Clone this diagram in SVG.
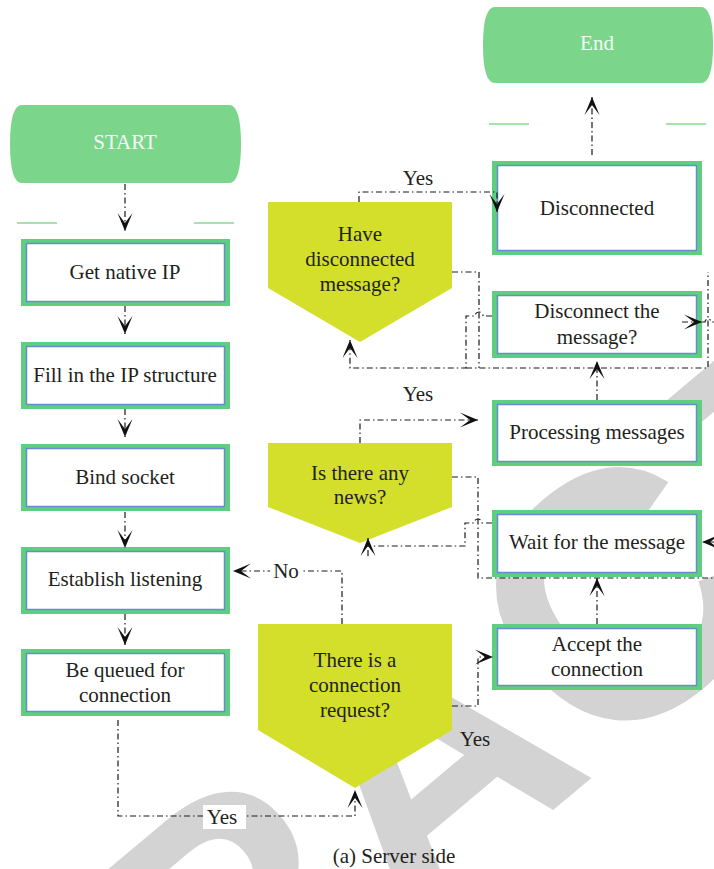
<svg xmlns="http://www.w3.org/2000/svg" width="714" height="869" viewBox="0 0 714 869">
<defs>
<style>
.wm{fill:#d3d3d3;font-family:"Liberation Sans",Arial,sans-serif;font-weight:bold;font-size:350px}
.term{fill:#7bd58b}
.termtxt{fill:#f3fbf4;font-family:"Liberation Serif",serif;font-size:21px;text-anchor:middle}
.sep{stroke:#86d996;stroke-width:1.5;fill:none}
.bo{fill:#5ecf7e}
.bi{fill:#ffffff;stroke:#6a8bd4;stroke-width:1.5}
.dec{fill:#d4df2b}
.t{fill:#231f20;font-family:"Liberation Serif",serif;font-size:21px;text-anchor:middle}
.c{fill:none;stroke:#1a1a1a;stroke-width:1.2;stroke-dasharray:6 3 1.5 3}
.a{marker-end:url(#ah)}
.lbg{fill:#ffffff}
</style>
<marker id="ah" viewBox="-19 -8 20 16" refX="0" refY="0" markerWidth="20" markerHeight="16" markerUnits="userSpaceOnUse" orient="auto">
<path d="M0,0 L-18,-7.5 L-8,0 L-18,7.5 Z" fill="#111"/>
</marker>
</defs>
<rect width="714" height="869" fill="#ffffff"/>
<g id="watermark">
<text class="wm" transform="translate(-325,1547) rotate(-40)">RETRACTED</text>
</g>
<g id="start">
<path class="term" d="M22,105 H229 Q241,105 241,144 Q241,183 229,183 H22 Q10,183 10,144 Q10,105 22,105 Z"/>
<text class="termtxt" x="125" y="149">START</text>
<line class="sep" x1="17" y1="223" x2="57" y2="223"/>
<line class="sep" x1="194" y1="223" x2="234" y2="223"/>
</g>
<g id="end">
<path class="term" d="M495,7 H701 Q713,7 713,45 Q713,83 701,83 H495 Q483,83 483,45 Q483,7 495,7 Z"/>
<text class="termtxt" x="597" y="50">End</text>
<line class="sep" x1="489" y1="124" x2="529" y2="124"/>
<line class="sep" x1="666" y1="124" x2="706" y2="124"/>
</g>
<g id="get-ip">
<rect class="bo" x="21" y="239" width="209" height="67"/>
<rect class="bi" x="26.5" y="243.5" width="198" height="58"/>
<text class="t" x="125" y="279">Get native IP</text>
</g>
<g id="fill-ip">
<rect class="bo" x="21" y="342" width="209" height="67"/>
<rect class="bi" x="26.5" y="346.5" width="198" height="58"/>
<text class="t" x="125" y="382">Fill in the IP structure</text>
</g>
<g id="bind">
<rect class="bo" x="21" y="444" width="209" height="67"/>
<rect class="bi" x="26.5" y="448.5" width="198" height="58"/>
<text class="t" x="125" y="484">Bind socket</text>
</g>
<g id="listen">
<rect class="bo" x="21" y="547" width="209" height="67"/>
<rect class="bi" x="26.5" y="551.5" width="198" height="58"/>
<text class="t" x="125" y="586">Establish listening</text>
</g>
<g id="queue">
<rect class="bo" x="21" y="649" width="209" height="67"/>
<rect class="bi" x="26.5" y="653.5" width="198" height="58"/>
<text class="t" x="125" y="677">Be queued for</text>
<text class="t" x="125" y="702">connection</text>
</g>
<g id="disconnected">
<rect class="bo" x="492" y="161" width="210" height="94"/>
<rect class="bi" x="497.5" y="165.5" width="199" height="85"/>
<text class="t" x="597" y="215">Disconnected</text>
</g>
<g id="disconnect-msg">
<rect class="bo" x="492" y="291" width="210" height="67"/>
<rect class="bi" x="497.5" y="295.5" width="199" height="58"/>
<text class="t" x="597" y="318">Disconnect the</text>
<text class="t" x="597" y="344">message?</text>
</g>
<g id="processing">
<rect class="bo" x="492" y="400" width="210" height="66"/>
<rect class="bi" x="497.5" y="404.5" width="199" height="57"/>
<text class="t" x="597" y="439">Processing messages</text>
</g>
<g id="wait">
<rect class="bo" x="492" y="510" width="210" height="67"/>
<rect class="bi" x="497.5" y="514.5" width="199" height="58"/>
<text class="t" x="597" y="549">Wait for the message</text>
</g>
<g id="accept">
<rect class="bo" x="492" y="624" width="210" height="66"/>
<rect class="bi" x="497.5" y="628.5" width="199" height="57"/>
<text class="t" x="597" y="651">Accept the</text>
<text class="t" x="597" y="676">connection</text>
</g>
<g id="dec-disconnected">
<polygon class="dec" points="268,202 452,202 452,288 360,342 268,288"/>
<text class="t" x="360" y="241">Have</text>
<text class="t" x="360" y="266">disconnected</text>
<text class="t" x="360" y="291">message?</text>
</g>
<g id="dec-news">
<polygon class="dec" points="268,443 452,443 452,507 360,543 268,507"/>
<text class="t" x="360" y="480">Is there any</text>
<text class="t" x="360" y="504">news?</text>
</g>
<g id="dec-request">
<polygon class="dec" points="258,624 452,624 452,730 355,788 258,730"/>
<text class="t" x="355" y="667">There is a</text>
<text class="t" x="355" y="692">connection</text>
<text class="t" x="355" y="717">request?</text>
</g>
<g id="connectors">
<path class="c a" d="M125,184 V231"/>
<path class="c a" d="M125,306 V334"/>
<path class="c a" d="M125,409 V437"/>
<path class="c a" d="M125,512 V548"/>
<path class="c a" d="M125,614 V645"/>
<path class="c a" d="M118,720 V816 H355 V790"/>
<path class="c a" d="M342,624 V571 H233"/>
<path class="c a" d="M452,706 H478 V657 H493"/>
<path class="c a" d="M597,624 V578"/>
<path class="c a" d="M360,443 V420 H478"/>
<path class="c a" d="M359,202 V192 H497 V212"/>
<path class="c a" d="M592,155 V97"/>
<path class="c a" d="M597,400 V361"/>
<path class="c" d="M452,272 H479 V368"/>
<path class="c a" d="M492,316 H483 a4,4 0 0 0 -8,0 H466 V368 H350 V340"/>
<path class="c" d="M466,368 H708 V272"/>
<path class="c a" d="M682,322 H702"/>
<path class="c" d="M702,322 H705 a3,3 0 0 1 6,0 H714"/>
<path class="c" d="M452,477 H478 V578 H714"/>
<path class="c a" d="M714,542 H702"/>
<path class="c" d="M492,523 H482 a4,4 0 0 0 -8,0 H465 V546 H370"/>
<path class="c a" d="M368,556 V538"/>
<rect class="lbg" x="203" y="805" width="43" height="24"/>
<text class="t" x="222" y="824">Yes</text>
<rect class="lbg" x="270" y="561" width="32" height="21"/>
<text class="t" x="286" y="578">No</text>
<text class="t" x="418" y="185">Yes</text>
<text class="t" x="418" y="401">Yes</text>
<text class="t" x="475" y="746">Yes</text>
</g>
<text class="t" x="394" y="863">(a) Server side</text>
</svg>
